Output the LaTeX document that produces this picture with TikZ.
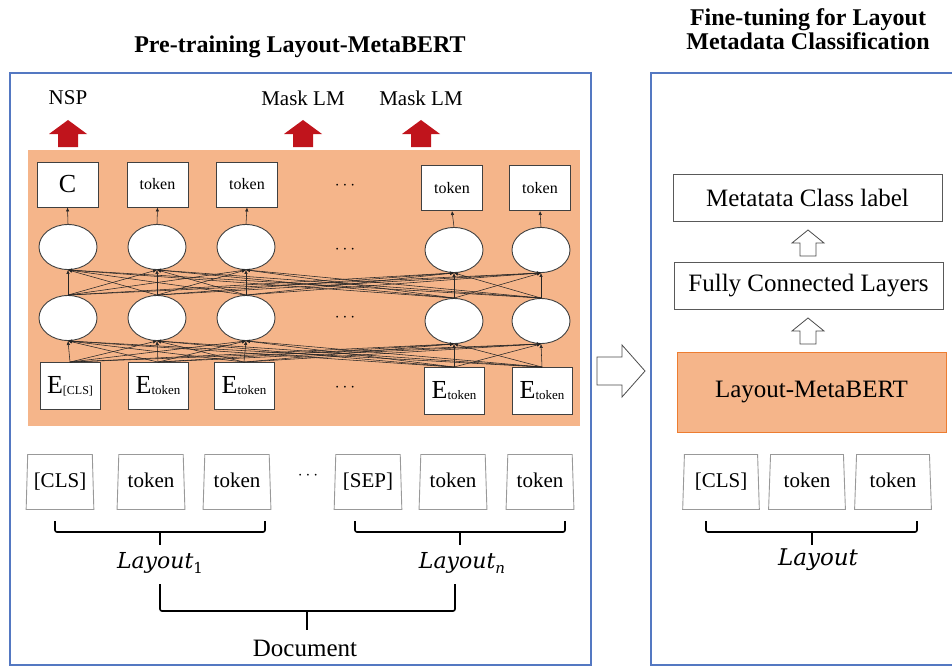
\documentclass[tikz,border=0pt]{standalone}
\usepackage{fontspec}
\setmainfont{Liberation Serif}
\newfontfamily\lyfont{DejaVu Serif}
\usetikzlibrary{shapes.geometric,arrows.meta}
\definecolor{frameblue}{HTML}{5478C2}
\definecolor{peach}{HTML}{F5B58A}
\definecolor{peachedge}{HTML}{ED7D31}
\definecolor{darkred}{HTML}{C0141C}
\newcommand{\fs}[1]{\fontsize{#1}{#1}\selectfont}
\newcommand{\redup}[2]{\fill[darkred] (#1-10,#2+14) -- (#1-10,#2+1) -- (#1-19,#2+1) -- (#1,#2-13) -- (#1+19,#2+1) -- (#1+10,#2+1) -- (#1+10,#2+14) -- cycle;}
\newcommand{\hollowup}[2]{\draw[draw=black!70,fill=white,line width=0.8pt,line join=miter] (#1-8,#2+13) -- (#1-8,#2) -- (#1-16,#2) -- (#1,#2-13) -- (#1+16,#2) -- (#1+8,#2) -- (#1+8,#2+13) -- cycle;}
\tikzset{
  frame/.style={draw=frameblue,line width=1.5pt},
  topbox/.style={draw=black!75,fill=white,line width=0.9pt,minimum width=61,minimum height=45,inner sep=0pt,font=\fs{16}},
  ebox/.style={draw=black!75,fill=white,line width=0.9pt,minimum width=60,minimum height=47,inner sep=0pt,font=\fs{26}},
  neuron/.style={ellipse,draw=black!75,fill=white,line width=0.9pt,minimum width=58,minimum height=45,inner sep=0pt},
  conn/.style={draw=black!85,line width=0.55pt,-{Latex[length=4pt,width=3.5pt]}},
  trap/.style={trapezium,draw=black!40,line width=0.9pt,trapezium stretches=true,trapezium left angle=86,trapezium right angle=86,minimum width=68,minimum height=55,inner sep=0pt,font=\fs{21},text height=14pt,text depth=4pt},
  rbox/.style={draw=black!65,line width=0.9pt,fill=white,minimum width=269,minimum height=47,inner sep=0pt,font=\fs{25}},
  lbl/.style={font=\fs{21},inner sep=0pt},
  dotsl/.style={font=\fs{16},inner sep=0pt},
  brk/.style={draw=black,line width=1.6pt,rounded corners=2pt},
  ttl/.style={font=\bfseries\fs{24},inner sep=0pt,align=center}
}
\begin{document}
\begin{tikzpicture}[x=1pt,y=-1pt]
\useasboundingbox (0,0) rectangle (952,666);
% titles
\node[ttl] (t1) at (300,47) {Pre-training Layout-MetaBERT};
\node[ttl] (t2) at (808,29) {Fine-tuning for Layout\\Metadata Classification};
% frames
\draw[frame] (10,73) rectangle (591,665);
\draw[frame] (651,73) rectangle (955,665);
% orange region
\fill[peach] (28,150) rectangle (580,426);
% output labels and red arrows
\node[lbl] (nsp) at (68,98) {NSP};
\node[lbl] (ml1) at (303,98) {Mask LM};
\node[lbl] (ml2) at (421,98) {Mask LM};
\redup{68}{133}
\redup{303}{133}
\redup{421}{133}
% top boxes
\node[topbox,font=\fs{26}] (T1) at (67.5,184.5) {C};
\node[topbox] (T2) at (157.5,184.5) {token};
\node[topbox] (T3) at (247,184.5) {token};
\node[topbox] (T4) at (452,188) {token};
\node[topbox] (T5) at (540,188) {token};
% neurons
\node[neuron] (A1) at (68,247) {};
\node[neuron] (A2) at (157,247) {};
\node[neuron] (A3) at (246,247) {};
\node[neuron] (A4) at (454,250) {};
\node[neuron] (A5) at (541,250) {};
\node[neuron] (B1) at (68,318) {};
\node[neuron] (B2) at (157,318) {};
\node[neuron] (B3) at (246,318) {};
\node[neuron] (B4) at (454,321) {};
\node[neuron] (B5) at (541,321) {};
% embedding boxes
\node[ebox] (E1) at (70,386) {E\raisebox{-1pt}{\fs{12}[CLS]}};
\node[ebox] (E2) at (158,386) {E\raisebox{-1pt}{\fs{13}token}};
\node[ebox] (E3) at (244,386) {E\raisebox{-1pt}{\fs{13}token}};
\node[ebox] (E4) at (454,391) {E\raisebox{-1pt}{\fs{13}token}};
\node[ebox] (E5) at (542,391) {E\raisebox{-1pt}{\fs{13}token}};
% dots
\node[dotsl] (d1) at (345,186) {$\cdots$};
\node[dotsl] (d2) at (345,250) {$\cdots$};
\node[dotsl] (d3) at (345,318) {$\cdots$};
\node[dotsl] (d4) at (345,388) {$\cdots$};
% connections
\foreach \i in {1,...,5}{
  \foreach \j in {1,...,5}{
    \draw[conn] (E\i.north) -- (B\j.south);
    \draw[conn] (B\i.north) -- (A\j.south);
  }
  \draw[conn] (A\i.north) -- (T\i.south);
}
% input tokens (left)
\node[trap] (p1) at (60,482) {[CLS]};
\node[trap] (p2) at (151,482) {token};
\node[trap] (p3) at (237,482) {token};
\node[dotsl] (pd) at (308,476) {$\cdots$};
\node[trap] (p4) at (368,482) {[SEP]};
\node[trap] (p5) at (453,482) {token};
\node[trap] (p6) at (540,482) {token};
% brackets left
\coordinate (b1) at (160,532);
\coordinate (b2) at (460,532);
\draw[brk] (55,521) -- (55,532) -- (265,532) -- (265,521);
\draw[brk] (b1) -- (160,545);
\draw[brk] (355,521) -- (355,532) -- (565,532) -- (565,521);
\draw[brk] (b2) -- (460,545);
\node[inner sep=0pt] (L1) at (160,563) {\lyfont\itshape\fs{22}Layout\raisebox{-5pt}{\upshape\fs{15}1}};
\node[inner sep=0pt] (Ln) at (462,563) {\lyfont\itshape\fs{22}Layout\raisebox{-5pt}{\fs{15}n}};
\coordinate (bb) at (307,611);
\draw[brk] (160,584) -- (160,611) -- (455,611) -- (455,584);
\draw[brk] (bb) -- (307,630);
\node[inner sep=0pt,font=\fs{25}] (doc) at (305,648) {Document};
% transition arrow
\draw[draw=black!70,fill=white,line width=0.8pt,line join=miter] (597,357) -- (622,357) -- (622,345) -- (645,371) -- (622,397) -- (622,385) -- (597,385) -- cycle;
% right panel
\node[rbox] (mc) at (807.5,198) {Metatata Class label};
\hollowup{808}{243}
\node[rbox] (fc) at (808.5,286) {Fully Connected Layers};
\hollowup{808}{331}
\node[rbox,fill=peach,draw=peachedge,minimum height=80] (lm) at (811.5,392) {Layout-MetaBERT};
\node[trap,minimum width=77] (q1) at (721,482) {[CLS]};
\node[trap,minimum width=77] (q2) at (807,482) {token};
\node[trap,minimum width=77] (q3) at (893,482) {token};
\coordinate (b3) at (812,532);
\draw[brk] (706,521) -- (706,532) -- (917,532) -- (917,521);
\draw[brk] (b3) -- (812,545);
\node[inner sep=0pt] (L) at (818,560) {\lyfont\itshape\fs{23}Layout};
\end{tikzpicture}
\end{document}
